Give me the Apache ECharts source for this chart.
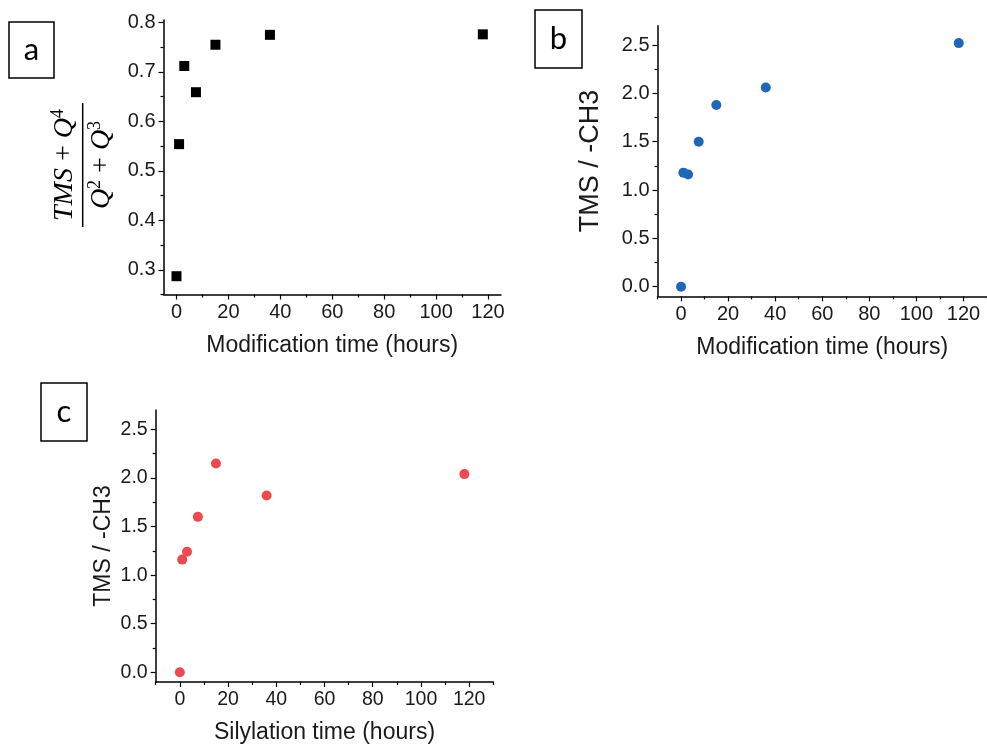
<!DOCTYPE html>
<html>
<head>
<meta charset="utf-8">
<script src="https://cdn.jsdelivr.net/npm/echarts@6/dist/echarts.min.js"></script>
<style>html,body{margin:0;padding:0;background:#fff}#c{width:987px;height:745px}</style>
</head>
<body>
<div id="c"></div>
<script>
// ---- data ----
const hoursA = [0, 1, 3, 7.5, 15, 36, 118];
const ratioA = [0.287, 0.554, 0.712, 0.659, 0.755, 0.775, 0.776];
const hoursB = [0, 1, 3, 7.5, 15, 36, 118];
const tmsB = [0, 1.18, 1.16, 1.50, 1.88, 2.06, 2.52];
const hoursC = [0, 1, 3, 7.5, 15, 36, 118];
const tmsC = [0, 1.16, 1.24, 1.60, 2.15, 1.82, 2.04];

const xTicks = [0, 20, 40, 60, 80, 100, 120];
const xMinorA = [10, 30, 50, 70, 90, 110];
const xMinorBC = [-10, 10, 30, 50, 70, 90, 110, 130];
const yTicksA = [0.3, 0.4, 0.5, 0.6, 0.7, 0.8];
const yMinorA = [0.25, 0.35, 0.45, 0.55, 0.65, 0.75];
const yTicksBC = [0, 0.5, 1.0, 1.5, 2.0, 2.5];
const yMinorBC = [0.25, 0.75, 1.25, 1.75, 2.25];

const xNameAB = 'Modification time (hours)';
const xNameC = 'Silylation time (hours)';
const yNameBC = 'TMS / -CH3';

const TXT = '#1a1a1a';
const FONT = 'Liberation Sans';

function axisPair(dim, grid, min, max, ticks, minors, fmt, name, nameGap, nameSize, labelSize) {
  const pos = dim === 'x' ? 'bottom' : 'left';
  const main = {
    type: 'value', gridIndex: grid, min: min, max: max, position: pos,
    axisLine: { show: true, onZero: false, lineStyle: { color: '#000', width: 1.5 } },
    axisTick: { show: true, inside: false, length: 5, customValues: ticks, lineStyle: { color: '#000', width: 1.2 } },
    axisLabel: { show: true, customValues: ticks, formatter: fmt, color: TXT, fontFamily: FONT, fontSize: labelSize, margin: 8 },
    splitLine: { show: false },
    minorTick: { show: false }
  };
  if (name) {
    main.name = name;
    main.nameLocation = 'middle';
    main.nameGap = nameGap;
    main.nameTextStyle = { color: TXT, fontFamily: FONT, fontSize: nameSize };
  }
  const minor = {
    type: 'value', gridIndex: grid, min: min, max: max, position: pos, offset: 0,
    axisLine: { show: false, onZero: false },
    axisTick: { show: true, inside: false, length: 3, customValues: minors, lineStyle: { color: '#000', width: 1.2 } },
    axisLabel: { show: false },
    splitLine: { show: false }
  };
  return [main, minor];
}

const fmt1 = v => v.toFixed(1);
const fmt0 = v => String(v);

const xAxes = [].concat(
  axisPair('x', 0, -5, 125, xTicks, xMinorA, fmt0, xNameAB, 40, 23, 20),
  axisPair('x', 1, -10, 130, xTicks, xMinorBC, fmt0, xNameAB, 40, 23, 20),
  axisPair('x', 2, -10, 130, xTicks, xMinorBC, fmt0, xNameC, 39, 23, 19.5)
);
const yAxes = [].concat(
  axisPair('y', 0, 0.25, 0.805, yTicksA, yMinorA, fmt1, null, 0, 0, 20),
  axisPair('y', 1, -0.1, 2.7, yTicksBC, yMinorBC, fmt1, yNameBC, 53, 27, 20),
  axisPair('y', 2, -0.1, 2.7, yTicksBC, yMinorBC, fmt1, yNameBC, 41, 23, 19.5)
);

function pairs(xs, ys) { return xs.map((x, i) => [x, ys[i]]); }

function labelBox(x, y, w, h, letter) {
  return {
    type: 'group', x: x, y: y,
    children: [
      { type: 'rect', shape: { x: 0, y: 0, width: w, height: h }, style: { fill: '#fff', stroke: '#000', lineWidth: 1.5 } },
      { type: 'text', x: w / 2, y: h / 2, style: { text: letter, font: '31px Lato', fill: '#000', align: 'center', verticalAlign: 'middle' } }
    ]
  };
}

const fracRich = {
  i: { fontFamily: 'Liberation Serif', fontStyle: 'italic', fontSize: 28, lineHeight: 30, fill: '#000', color: '#000' },
  n: { fontFamily: 'Liberation Serif', fontSize: 28, lineHeight: 30, fill: '#000', color: '#000' },
  s: { fontFamily: 'Liberation Serif', fontSize: 18, verticalAlign: 'top', lineHeight: 30, fill: '#000', color: '#000' }
};

const option = {
  backgroundColor: '#fff',
  animation: false,
  grid: [
    { left: 163.5, top: 20, width: 337.5, height: 274.5 },
    { left: 657.5, top: 25.7, width: 335, height: 270.7 },
    { left: 155.7, top: 410, width: 337.6, height: 272.5 }
  ],
  xAxis: xAxes,
  yAxis: yAxes,
  series: [
    { type: 'scatter', xAxisIndex: 0, yAxisIndex: 0, data: pairs(hoursA, ratioA), symbol: 'rect', symbolSize: 10, itemStyle: { color: '#000', opacity: 1 } },
    { type: 'scatter', xAxisIndex: 2, yAxisIndex: 2, data: pairs(hoursB, tmsB), symbol: 'circle', symbolSize: 10, itemStyle: { color: '#1f67b6', opacity: 1 } },
    { type: 'scatter', xAxisIndex: 4, yAxisIndex: 4, data: pairs(hoursC, tmsC), symbol: 'circle', symbolSize: 10, itemStyle: { color: '#ea4a50', opacity: 1 } }
  ],
  graphic: [
    labelBox(9, 22, 45, 56, 'a'),
    labelBox(535, 10, 47, 58, 'b'),
    labelBox(41, 383, 46, 58, 'c'),
    {
      type: 'group', x: 82.7, y: 165, rotation: Math.PI / 2,
      children: [
        { type: 'line', shape: { x1: -62, y1: 0, x2: 62, y2: 0 }, style: { stroke: '#000', lineWidth: 1.5 } },
        { type: 'text', x: 0, y: -3, style: { text: '{i|TMS}{n| + }{i|Q}{s|4}', align: 'center', verticalAlign: 'bottom', rich: fracRich } },
        { type: 'text', x: 0, y: 4, style: { text: '{i|Q}{s|2}{n| + }{i|Q}{s|3}', align: 'center', verticalAlign: 'top', rich: fracRich } }
      ]
    }
  ]
};

const chart = echarts.init(document.getElementById('c'), null, { renderer: 'canvas' });
chart.setOption(option);
</script>
</body>
</html>
